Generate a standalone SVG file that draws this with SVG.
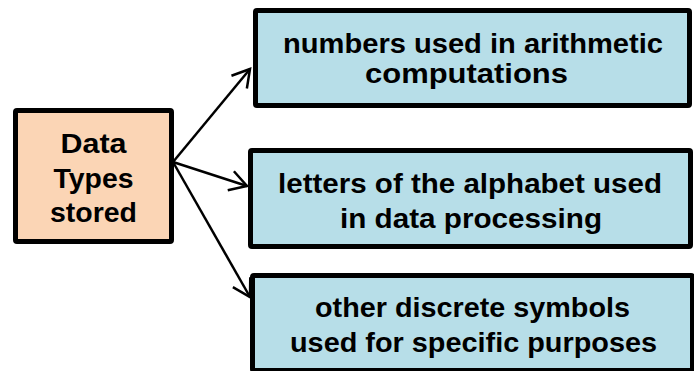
<svg xmlns="http://www.w3.org/2000/svg" width="694" height="371" viewBox="0 0 694 371">
  <defs>
    <style>
      .box { stroke: #000; stroke-width: 5; stroke-linejoin: round; }
      .src { fill: #FBD5B5; }
      .dst { fill: #B7DEE8; }
      .lbl { font-family: "Liberation Sans", Arial, sans-serif; font-weight: bold; font-size: 27px; fill: #000; text-anchor: middle; }
      .wire { stroke: #000; stroke-width: 2.5; fill: none; }
    </style>
    <marker id="vhead" markerUnits="userSpaceOnUse" markerWidth="30" markerHeight="30" viewBox="-20 -15 25 30" refX="0" refY="0" orient="auto">
      <path d="M -17,-10 L 0,0 L -17,10" fill="none" stroke="#000" stroke-width="2.5" stroke-linejoin="miter"/>
    </marker>
  </defs>

  <g id="node-data-types">
    <rect class="box src" x="15.5" y="110.5" width="156" height="131" rx="1.5"/>
    <text class="lbl" x="93.5" y="153" textLength="66" lengthAdjust="spacingAndGlyphs">Data</text>
    <text class="lbl" x="93.5" y="188" textLength="80" lengthAdjust="spacingAndGlyphs">Types</text>
    <text class="lbl" x="93.5" y="222" textLength="87" lengthAdjust="spacingAndGlyphs">stored</text>
  </g>

  <g id="node-numbers">
    <rect class="box dst" x="255.5" y="10.5" width="434" height="95" rx="1.5"/>
    <text class="lbl" x="473" y="53" textLength="380" lengthAdjust="spacingAndGlyphs">numbers used in arithmetic</text>
    <text class="lbl" x="466.5" y="83" textLength="203" lengthAdjust="spacingAndGlyphs">computations</text>
  </g>

  <g id="node-letters">
    <rect class="box dst" x="250.5" y="150.5" width="440" height="96" rx="1.5"/>
    <text class="lbl" x="470" y="193" textLength="384" lengthAdjust="spacingAndGlyphs">letters of the alphabet used</text>
    <text class="lbl" x="471" y="228" textLength="262" lengthAdjust="spacingAndGlyphs">in data processing</text>
  </g>

  <g id="node-symbols">
    <rect class="box dst" x="252.5" y="275.5" width="440" height="95" rx="1.5"/>
    <text class="lbl" x="472.5" y="317" textLength="315" lengthAdjust="spacingAndGlyphs">other discrete symbols</text>
    <text class="lbl" x="473.5" y="352" textLength="367" lengthAdjust="spacingAndGlyphs">used for specific purposes</text>
  </g>

  <g id="connectors">
    <line class="wire" x1="173" y1="162" x2="250" y2="69" marker-end="url(#vhead)"/>
    <line class="wire" x1="173" y1="162" x2="247" y2="186" marker-end="url(#vhead)"/>
    <line class="wire" x1="173" y1="162" x2="250" y2="297" marker-end="url(#vhead)"/>
  </g>
</svg>
